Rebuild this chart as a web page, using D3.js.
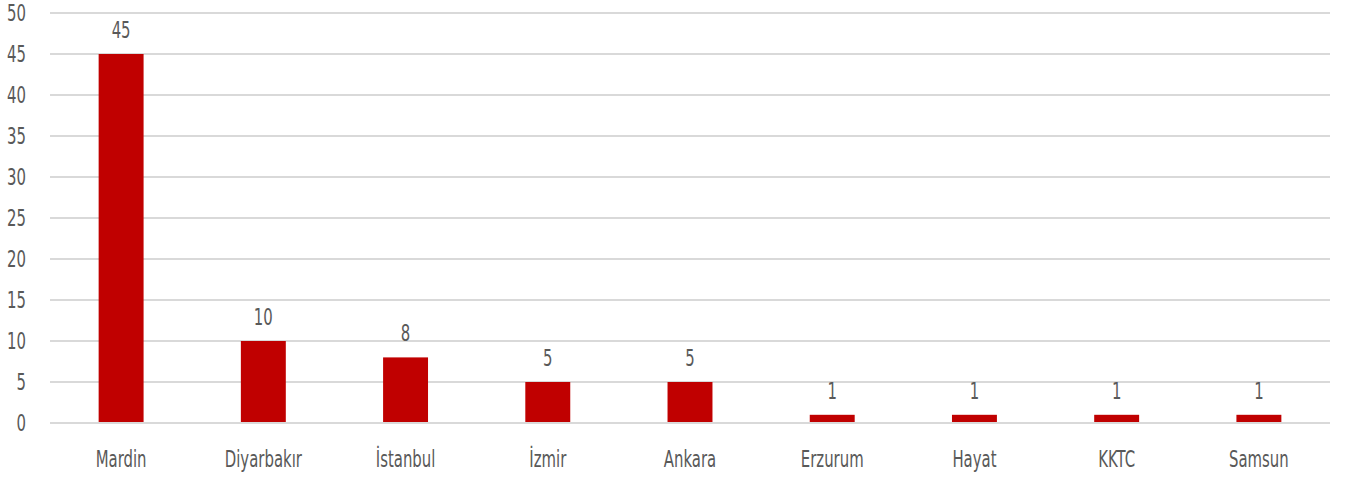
<!DOCTYPE html>
<html><head><meta charset="utf-8">
<script src="https://cdn.jsdelivr.net/npm/d3@7"></script>
<style>
body{margin:0;background:#fff;}
text{font-family:"DejaVu Sans Condensed","DejaVu Sans",sans-serif;fill:#595959;}
</style></head>
<body><svg id="c" width="1347" height="481"></svg>
<script>
const categories=["Mardin","Diyarbakır","İstanbul","İzmir","Ankara","Erzurum","Hayat","KKTC","Samsun"];
const values=[45,10,8,5,5,1,1,1,1];
const yTicks=[0,5,10,15,20,25,30,35,40,45,50];

const svg=d3.select("#c");
const m={l:50,r:17,t:13,b:58};
const W=1347,H=481;
const FS=23, SX=0.72;
const x=d3.scaleBand().domain(categories).range([m.l,W-m.r]).paddingInner(0.684).paddingOuter(0.342);
const y=d3.scaleLinear().domain([0,50]).range([H-m.b,m.t]);

const g=svg.append("g");
g.selectAll("line.grid").data(yTicks).join("line")
 .attr("x1",m.l).attr("x2",W-m.r).attr("y1",d=>y(d)).attr("y2",d=>y(d))
 .attr("stroke","#d9d9d9").attr("stroke-width",2);

g.selectAll("text.yt").data(yTicks).join("text")
 .attr("transform",d=>`translate(26,${y(d)}) scale(${SX},1)`).attr("dy","0.36em").attr("text-anchor","end")
 .attr("font-size",FS).text(d=>d);

g.selectAll("rect").data(values).join("rect")
 .attr("x",(d,i)=>x(categories[i])).attr("width",x.bandwidth())
 .attr("y",d=>y(d)).attr("height",d=>y(0)-y(d)-1).attr("fill","#c00000");

g.selectAll("text.lab").data(values).join("text")
 .attr("transform",(d,i)=>`translate(${x(categories[i])+x.bandwidth()/2},${y(d)-16}) scale(${SX},1)`)
 .attr("text-anchor","middle").attr("font-size",FS).text(d=>d);

g.selectAll("text.cat").data(categories).join("text")
 .attr("transform",d=>`translate(${x(d)+x.bandwidth()/2},467) scale(${SX},1)`)
 .attr("text-anchor","middle").attr("font-size",FS).text(d=>d);
</script></body></html>
